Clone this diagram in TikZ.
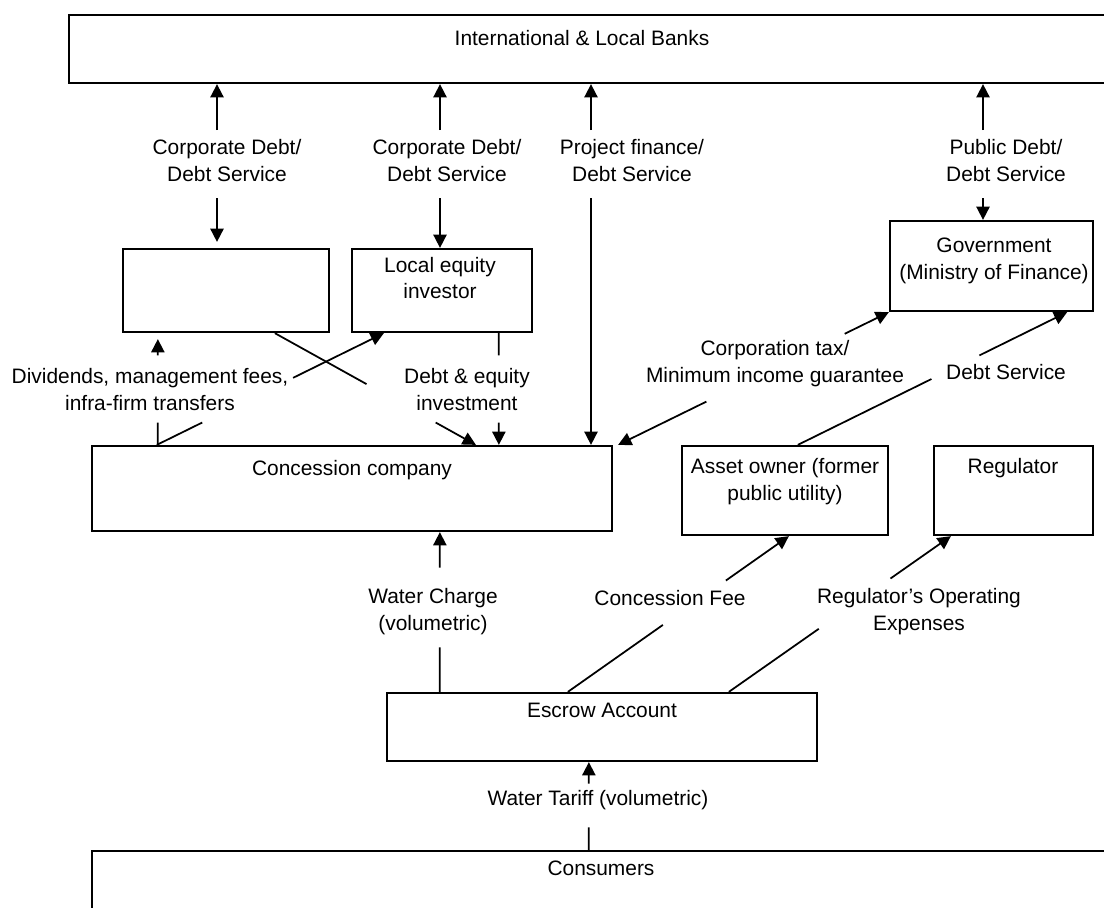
\documentclass[tikz,border=0pt]{standalone}
\usepackage{fontspec}
\setmainfont{Liberation Sans}
\usetikzlibrary{arrows.meta,calc,fit}
\begin{document}
\begin{tikzpicture}[x=0.02cm,y=-0.02cm,
  box/.style={draw,line width=1.3pt,inner sep=0pt},
  txt/.style={align=center,inner sep=0pt,font=\fontsize{11.9pt}{15.3pt}\selectfont},
  con/.style={line width=1pt},
  arr/.style={line width=1pt,-{Triangle[length=7.5pt,width=7.5pt]}},
  gap/.style={shorten >=3.4pt}]
\useasboundingbox (0,0) rectangle (1104,907);
\fill[white] (0,0) rectangle (1104,907);
\clip (0,0) rectangle (1104,907);

% boxes
\node[box,fit={(69,15) (1140,83)}] (banks) {};
\node[box,fit={(123,249) (329,332)}] (empty) {};
\node[box,fit={(352,249) (532,332)}] (loc) {};
\node[box,fit={(890,221) (1093,311)}] (gov) {};
\node[box,fit={(92,446) (612,531)}] (conc) {};
\node[box,fit={(682,446) (888,535)}] (asset) {};
\node[box,fit={(934,446) (1093,535)}] (reg) {};
\node[box,fit={(387,693) (817,761)}] (escrow) {};
\node[box,fit={(92,851) (1140,960)}] (cons) {};

% box texts
\node[txt] (tbanks) at (582,38) {International \& Local Banks};
\node[txt] (tloc) at (440,278) {Local equity\\investor};
\node[txt] (tgov) at (994,261) {Government\\(Ministry of Finance)};
\node[txt] (tconc) at (352,470) {Concession company};
\node[txt] (tasset) at (785,481.5) {Asset owner (former\\public utility)};
\node[txt] (treg) at (1013,468) {Regulator};
\node[txt] (tesc) at (602,710) {Escrow Account};
\node[txt] (tcons) at (601,868) {Consumers};

% labels
\node[txt] (l1) at (227,160.5) {Corporate Debt/\\Debt Service};
\node[txt] (l2) at (447,160.5) {Corporate Debt/\\Debt Service};
\node[txt] (l3) at (632,160.5) {Project finance/\\Debt Service};
\node[txt] (l4) at (1006,160.5) {Public Debt/\\Debt Service};
\node[txt] (ldiv) at (150,389.5) {Dividends, management fees,\\infra-firm transfers};
\node[txt] (ldeq) at (467,389.5) {Debt \& equity\\investment};
\node[txt] (ltax) at (775,363.5) {Corporation tax/\\Minimum income guarantee};
\node[txt] (lds) at (1006,372) {Debt Service};
\node[txt] (lwc) at (433,611.5) {Water Charge\\(volumetric)};
\node[txt] (lcf) at (670,598) {Concession Fee};
\node[txt] (lreg) at (919,611.5) {Regulator’s Operating\\Expenses};
\node[txt] (lwt) at (598,800) {Water Tariff (volumetric)};

% top vertical arrows
\coordinate (c1u) at (217,130);
\coordinate (c1d) at (217,198);
\draw[arr] (c1u) -- (c1u |- banks.south);
\draw[arr,gap] (c1d) -- (c1d |- empty.north);
\coordinate (c2u) at (440,130);
\coordinate (c2d) at (440,198);
\draw[arr] (c2u) -- (c2u |- banks.south);
\draw[arr] (c2d) -- (c2d |- loc.north);
\coordinate (c3u) at (591,130);
\coordinate (c3d) at (591,198);
\draw[arr] (c3u) -- (c3u |- banks.south);
\draw[arr] (c3d) -- (c3d |- conc.north);
\coordinate (c4u) at (983,130);
\coordinate (c4d) at (983,198);
\draw[arr] (c4u) -- (c4u |- banks.south);
\draw[arr] (c4d) -- (c4d |- gov.north);

% concession -> empty box (vertical)
\coordinate (v1b) at ($(conc.north west)+(67,0)$);
\coordinate (v1t) at (v1b |- empty.south);
\draw[con] (v1b) -- ($(v1b)!0.2!(v1t)$);
\draw[arr,gap] ($(v1b)!0.8!(v1t)$) -- (v1t);

% concession -> local equity (slanted)
\coordinate (d1) at ($(conc.north west)+(66,0)$);
\coordinate (d2) at ($(loc.south west)+(33,0)$);
\draw[con] (d1) -- ($(d1)!0.2!(d2)$);
\draw[arr] ($(d1)!0.6!(d2)$) -- (d2);

% empty box -> concession (slanted)
\coordinate (x1) at ($(empty.south west)+(153,0)$);
\coordinate (x2) at ($(conc.north west)+(385,0)$);
\draw[con] (x1) -- ($(x1)!0.456!(x2)$);
\draw[arr] ($(x1)!0.8!(x2)$) -- (x2);

% local equity -> concession (vertical)
\coordinate (le1) at ($(loc.south west)+(148,0)$);
\coordinate (le2) at (le1 |- conc.north);
\draw[con] (le1) -- ($(le1)!0.2!(le2)$);
\draw[arr] ($(le1)!0.8!(le2)$) -- (le2);

% concession <-> government (corporation tax)
\coordinate (ct1) at ($(conc.north east)+(5,0)$);
\coordinate (ct2) at (gov.south west);
\draw[arr] ($(ct1)!0.326!(ct2)$) -- (ct1);
\draw[arr] ($(ct1)!0.837!(ct2)$) -- (ct2);

% asset owner -> government (debt service)
\coordinate (ds1) at ($(asset.north west)+(117,0)$);
\coordinate (ds2) at ($(gov.south east)+(-27,0)$);
\draw[con] (ds1) -- ($(ds1)!0.496!(ds2)$);
\draw[arr] ($(ds1)!0.674!(ds2)$) -- (ds2);

% escrow -> concession (water charge)
\coordinate (w1) at ($(escrow.north west)+(54,0)$);
\coordinate (w2) at (w1 |- conc.south);
\draw[con] (w1) -- ($(w1)!0.278!(w2)$);
\draw[arr] ($(w1)!0.778!(w2)$) -- (w2);

% escrow -> asset owner (concession fee)
\coordinate (e1) at ($(escrow.north west)+(182,0)$);
\coordinate (a2) at ($(asset.south west)+(108,0)$);
\draw[con] (e1) -- ($(e1)!0.43!(a2)$);
\draw[arr] ($(e1)!0.715!(a2)$) -- (a2);

% escrow -> regulator
\coordinate (e2) at ($(escrow.north west)+(343,0)$);
\coordinate (r2) at ($(reg.south west)+(18,0)$);
\draw[con] (e2) -- ($(e2)!0.405!(r2)$);
\draw[arr] ($(e2)!0.728!(r2)$) -- (r2);

% consumers -> escrow (water tariff)
\coordinate (t1) at ($(cons.north west)+(498,0)$);
\coordinate (t2) at (t1 |- escrow.south);
\draw[con] (t1) -- ($(t1)!0.256!(t2)$);
\draw[arr] ($(t1)!0.756!(t2)$) -- (t2);
\end{tikzpicture}
\end{document}
